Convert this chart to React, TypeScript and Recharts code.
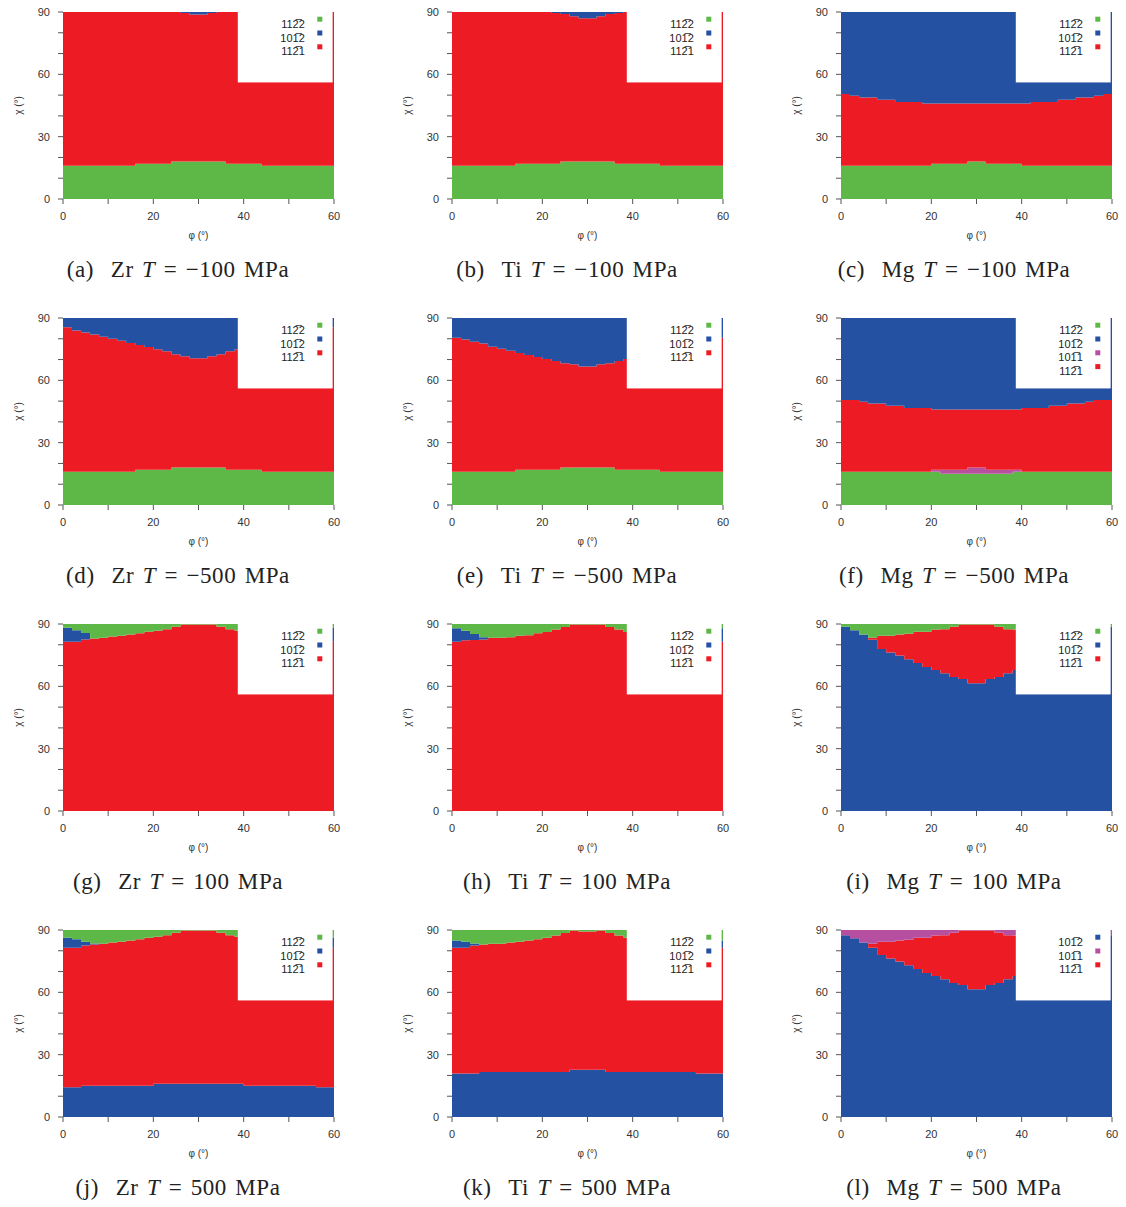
import React from 'react';
import { AreaChart, Area, XAxis, YAxis } from 'recharts';

// phi sampled every 2 degrees (each value holds until the next one)
const phi = [0, 2, 4, 6, 8, 10, 12, 14, 16, 18, 20, 22, 24, 26, 28, 30, 32, 34, 36, 38, 40, 42, 44, 46, 48, 50, 52, 54, 56, 58, 60];

// boundaries (chi, degrees)
const zrGreenTop = [16, 16, 16, 16, 16, 16, 16, 16, 17, 17, 17, 17, 18, 18, 18, 18, 18, 18, 17, 17, 17, 17, 16, 16, 16, 16, 16, 16, 16, 16, 16];
const tiGreenTop = [16, 16, 16, 16, 16, 16, 16, 17, 17, 17, 17, 17, 18, 18, 18, 18, 18, 18, 17, 17, 17, 17, 17, 16, 16, 16, 16, 16, 16, 16, 16];
const mgGreenTop = [16, 16, 16, 16, 16, 16, 16, 16, 16, 16, 17, 17, 17, 17, 18, 18, 17, 17, 17, 17, 16, 16, 16, 16, 16, 16, 16, 16, 16, 16, 16];

const aRedTop = [90, 90, 90, 90, 90, 90, 90, 90, 90, 90, 90, 90, 90, 89.5, 88.8, 88.8, 89.5, 90, 90, 90, 90, 90, 90, 90, 90, 90, 90, 90, 90, 90, 90];
const bRedTop = [90, 90, 90, 90, 90, 90, 90, 90, 90, 90, 90, 89.5, 89, 88, 87, 87, 88, 89, 89.5, 90, 90, 90, 90, 90, 90, 90, 90, 90, 90, 90, 90];
const cRedTop = [50.5, 49.7, 48.8, 48.8, 47.8, 47.8, 46.7, 46.7, 46.7, 46, 46, 46, 46, 46, 46, 46, 46, 46, 46, 46, 46, 46.7, 46.7, 46.7, 47.8, 47.8, 48.8, 48.8, 49.7, 50.5, 50.5];

const dRedTop = [85.5, 84, 83, 82, 81, 80, 79, 78, 77, 76, 75, 74, 72.5, 71.6, 70.6, 70.6, 71.6, 72.5, 74, 75, 76, 77, 78, 79, 80, 81, 82, 83, 84, 85.5, 85.5];
const eRedTop = [80.5, 79.6, 78.6, 77.7, 76.2, 75.2, 74.2, 73.2, 72.2, 71.2, 70.3, 69.3, 68.2, 67.7, 66.7, 66.7, 67.7, 68.2, 69.3, 70.3, 71.2, 72.2, 73.2, 74.2, 75.2, 76.2, 77.7, 78.6, 79.6, 80.5, 80.5];
const fGreenTop = [16, 16, 16, 16, 16, 16, 16, 16, 16, 16, 16, 15.1, 15.1, 15.1, 15.1, 15.1, 15.1, 15.1, 15.1, 16, 16, 16, 16, 16, 16, 16, 16, 16, 16, 16, 16];
const fMagentaTop = [16, 16, 16, 16, 16, 16, 16, 16, 16, 16, 17, 17, 17, 17, 18, 18, 17, 17, 17, 17, 16, 16, 16, 16, 16, 16, 16, 16, 16, 16, 16];
const fRedTop = [50.5, 50.5, 49.7, 48.8, 48.8, 47.8, 47.8, 46.7, 46.7, 46.7, 46, 46, 46, 46, 46, 46, 46, 46, 46, 46, 46.7, 46.7, 46.7, 47.8, 47.8, 48.8, 48.8, 49.7, 50.5, 50.5, 50.5];

const zrRedTopPos = [81.5, 81.5, 82.5, 83, 83.4, 84, 84.4, 85, 85.5, 86.3, 86.8, 87.5, 88.7, 89.7, 89.7, 89.7, 89.7, 88.7, 87.5, 86.8, 86.3, 85.5, 85, 84.4, 84, 83.4, 83, 82.5, 81.5, 81.5, 81.5];
const gBlueTop = [88.2, 87, 85.7, 83, 83.4, 84, 84.4, 85, 85.5, 86.3, 86.8, 87.5, 88.7, 89.7, 89.7, 89.7, 89.7, 88.7, 87.5, 86.8, 86.3, 85.5, 85, 84.4, 84, 83.4, 83, 85.7, 87, 88.2, 88.2];
const hRedTop = [81.5, 82.2, 82.3, 82.5, 83.4, 83.4, 83.6, 84.4, 84.6, 85.5, 86.2, 87.3, 88.5, 89.7, 89.7, 89.7, 89.7, 88.5, 87.3, 86.2, 85.5, 84.6, 84.4, 83.6, 83.4, 83.4, 82.5, 82.3, 82.2, 81.5, 81.5];
const hBlueTop = [87.9, 86.8, 85.2, 83.6, 83.4, 83.4, 83.6, 84.4, 84.6, 85.5, 86.2, 87.3, 88.5, 89.7, 89.7, 89.7, 89.7, 88.5, 87.3, 86.2, 85.5, 84.6, 84.4, 83.6, 83.4, 83.4, 83.6, 85.2, 86.8, 87.9, 87.9];
const iBlueTop = [88.7, 87, 85, 82.4, 78, 76.3, 74.8, 73, 71.2, 69.3, 67.9, 66.3, 64.5, 63.5, 61.5, 61.5, 63.5, 64.5, 66.3, 67.9, 69.3, 71.2, 73, 74.8, 76.3, 78, 82.4, 85, 87, 88.7, 88.7];
const iRedTop = [88.7, 87, 85, 83.4, 84.4, 84.4, 85, 85.3, 86.3, 86.3, 87.3, 87.5, 88.7, 89.7, 89.7, 89.7, 89.7, 88.7, 87.5, 87.3, 86.3, 86.3, 85.3, 85, 84.4, 84.4, 83.4, 85, 87, 88.7, 88.7];

const jBlueLowTop = [14.3, 14.3, 15.1, 15.1, 15.1, 15.1, 15.1, 15.1, 15.1, 15.1, 16, 16, 16, 16, 16, 16, 16, 16, 16, 16, 15.1, 15.1, 15.1, 15.1, 15.1, 15.1, 15.1, 15.1, 14.3, 14.3, 14.3];
const jBlueHighTop = [86.3, 85.5, 84.4, 83.5, 83.4, 84, 84.4, 85, 85.5, 86.3, 86.8, 87.5, 88.7, 89.7, 89.7, 89.7, 89.7, 88.7, 87.5, 86.8, 86.3, 85.5, 85, 84.4, 84, 83.4, 83.5, 84.4, 85.5, 86.3, 86.3];
const kBlueLowTop = [20.9, 20.9, 20.9, 21.7, 21.7, 21.7, 21.7, 21.7, 21.7, 21.7, 21.7, 21.7, 21.7, 22.8, 22.8, 22.8, 22.8, 21.7, 21.7, 21.7, 21.7, 21.7, 21.7, 21.7, 21.7, 21.7, 21.7, 20.9, 20.9, 20.9, 20.9];
const kRedTop = [81.5, 81.5, 82.5, 83, 83.4, 83.4, 84, 84.4, 85, 85.5, 86.3, 87.3, 88.5, 89.7, 89.3, 89.3, 89.7, 88.5, 87.3, 86.3, 85.5, 85, 84.4, 84, 83.4, 83.4, 83, 82.5, 81.5, 81.5, 81.5];
const kBlueHighTop = [85, 84.3, 83.5, 83, 83.4, 83.4, 84, 84.4, 85, 85.5, 86.3, 87.3, 88.5, 89.7, 89.3, 89.3, 89.7, 88.5, 87.3, 86.3, 85.5, 85, 84.4, 84, 83.4, 83.4, 83, 83.5, 84.3, 85, 85];
const lBlueTop = [87.5, 86, 84, 81.5, 78, 76.3, 74.8, 73, 71.2, 69.3, 67.9, 66.3, 64.5, 63.5, 61.5, 61.5, 63.5, 64.5, 66.3, 67.9, 69.3, 71.2, 73, 74.8, 76.3, 78, 81.5, 84, 86, 87.5, 87.5];
const lRedTop = [87.5, 86, 84, 83.4, 84.4, 84.4, 85, 85.3, 86.3, 86.3, 87.3, 87.5, 88.7, 89.7, 89.7, 89.7, 89.7, 88.7, 87.5, 87.3, 86.3, 86.3, 85.3, 85, 84.4, 84.4, 83.4, 84, 86, 87.5, 87.5];

const xTicks = [0, 10, 20, 30, 40, 50, 60];
const yTicks = [0, 10, 20, 30, 40, 50, 60, 70, 80, 90];

const GREEN = '#5DB847';
const BLUE = '#2551A2';
const RED = '#ED1C24';
const MAGENTA = '#B64FA0';

const L1122 = '112\u03052';
const L1012 = '101\u03052';
const L1011 = '101\u03051';
const L1121 = '112\u03051';

type Layer = { color: string; top?: number[] };
type Entry = { label: string; color: string };
type Panel = { tag: string; metal: string; stress: string; layers: Layer[]; legend: Entry[] };

const legend3: Entry[] = [
  { label: L1122, color: GREEN },
  { label: L1012, color: BLUE },
  { label: L1121, color: RED },
];

const panels: Panel[] = [
  { tag: '(a)', metal: 'Zr', stress: '\u2212100', legend: legend3,
    layers: [{ color: GREEN, top: zrGreenTop }, { color: RED, top: aRedTop }, { color: BLUE }] },
  { tag: '(b)', metal: 'Ti', stress: '\u2212100', legend: legend3,
    layers: [{ color: GREEN, top: tiGreenTop }, { color: RED, top: bRedTop }, { color: BLUE }] },
  { tag: '(c)', metal: 'Mg', stress: '\u2212100', legend: legend3,
    layers: [{ color: GREEN, top: mgGreenTop }, { color: RED, top: cRedTop }, { color: BLUE }] },
  { tag: '(d)', metal: 'Zr', stress: '\u2212500', legend: legend3,
    layers: [{ color: GREEN, top: zrGreenTop }, { color: RED, top: dRedTop }, { color: BLUE }] },
  { tag: '(e)', metal: 'Ti', stress: '\u2212500', legend: legend3,
    layers: [{ color: GREEN, top: tiGreenTop }, { color: RED, top: eRedTop }, { color: BLUE }] },
  { tag: '(f)', metal: 'Mg', stress: '\u2212500',
    legend: [
      { label: L1122, color: GREEN },
      { label: L1012, color: BLUE },
      { label: L1011, color: MAGENTA },
      { label: L1121, color: RED },
    ],
    layers: [{ color: GREEN, top: fGreenTop }, { color: MAGENTA, top: fMagentaTop }, { color: RED, top: fRedTop }, { color: BLUE }] },
  { tag: '(g)', metal: 'Zr', stress: '100', legend: legend3,
    layers: [{ color: RED, top: zrRedTopPos }, { color: BLUE, top: gBlueTop }, { color: GREEN }] },
  { tag: '(h)', metal: 'Ti', stress: '100', legend: legend3,
    layers: [{ color: RED, top: hRedTop }, { color: BLUE, top: hBlueTop }, { color: GREEN }] },
  { tag: '(i)', metal: 'Mg', stress: '100', legend: legend3,
    layers: [{ color: BLUE, top: iBlueTop }, { color: RED, top: iRedTop }, { color: GREEN }] },
  { tag: '(j)', metal: 'Zr', stress: '500', legend: legend3,
    layers: [{ color: BLUE, top: jBlueLowTop }, { color: RED, top: zrRedTopPos }, { color: BLUE, top: jBlueHighTop }, { color: GREEN }] },
  { tag: '(k)', metal: 'Ti', stress: '500', legend: legend3,
    layers: [{ color: BLUE, top: kBlueLowTop }, { color: RED, top: kRedTop }, { color: BLUE, top: kBlueHighTop }, { color: GREEN }] },
  { tag: '(l)', metal: 'Mg', stress: '500',
    legend: [
      { label: L1012, color: BLUE },
      { label: L1011, color: MAGENTA },
      { label: L1121, color: RED },
    ],
    layers: [{ color: BLUE, top: lBlueTop }, { color: RED, top: lRedTop }, { color: MAGENTA }] },
];

// chart geometry
const W = 341;
const H = 242;
const ML = 50;
const MT = 10;
const PW = 271;
const PH = 187;
const SANS = '"Liberation Sans", Arial, "DejaVu Sans", sans-serif';

// legend box: phi 38.7..59.7, chi 56.1..90
const BOX_X = ML + (PW * 38.7) / 60;
const BOX_W = (PW * 21) / 60;
const BOX_H = (PH * 33.9) / 90;

function buildRows(layers: Layer[]) {
  return phi.map((p, i) => {
    const row: Record<string, number> = { phi: p };
    let prev = 0;
    layers.forEach((l, j) => {
      const top = l.top ? l.top[i] : 90;
      row['s' + j] = Math.max(0, top - prev);
      prev = Math.max(prev, top);
    });
    return row;
  });
}

// legend box and axis titles, laid over the chart svg
function Overlay({ legend }: { legend: Entry[] }) {
  return (
    <svg
      width={W}
      height={H}
      style={{ position: 'absolute', left: 0, top: 0, pointerEvents: 'none' }}
      fontFamily={SANS}
    >
      <rect x={BOX_X} y={MT} width={BOX_W} height={BOX_H} fill="#ffffff" />
      {legend.map((e, i) => (
        <g key={i}>
          <text x={ML + 241.8} y={MT + 15.7 + i * 13.8} textAnchor="end" fontSize={11} fill="#222">
            {e.label}
          </text>
          <rect x={ML + 254.3} y={MT + 4.7 + i * 13.8} width={5} height={5} fill={e.color} />
        </g>
      ))}
      <text x={ML + PW / 2} y={MT + PH + 39.5} textAnchor="middle" fontSize={10} fill="#333">
        φ (°)
      </text>
      <text
        transform={`translate(${ML - 44.5}, ${MT + PH / 2}) rotate(-90)`}
        textAnchor="middle"
        dominantBaseline="central"
        fontSize={10}
        fill="#333"
      >
        χ (°)
      </text>
    </svg>
  );
}

function PanelChart({ panel, left, top }: { panel: Panel; left: number; top: number }) {
  const data = buildRows(panel.layers);
  const tickStyle = { fontSize: 11, fill: '#333', fontFamily: SANS };
  return (
    <div style={{ position: 'absolute', left, top, width: W, height: H }}>
      <AreaChart width={W} height={H} data={data} margin={{ top: MT, right: W - ML - PW, left: 20, bottom: 5 }}>
        <XAxis
          dataKey="phi"
          type="number"
          domain={[0, 60]}
          ticks={xTicks}
          interval={0}
          tickFormatter={(v: number) => (v % 20 === 0 ? String(v) : '')}
          tickSize={5}
          tickMargin={8}
          height={40}
          axisLine={false}
          tickLine={{ stroke: '#555' }}
          tick={tickStyle}
        />
        <XAxis
          xAxisId="top"
          orientation="top"
          type="number"
          domain={[0, 60]}
          ticks={xTicks}
          interval={0}
          tickFormatter={() => ''}
          tickSize={5}
          height={0}
          axisLine={false}
          tickLine={{ stroke: '#555' }}
        />
        <YAxis
          type="number"
          domain={[0, 90]}
          ticks={yTicks}
          interval={0}
          tickFormatter={(v: number) => (v % 30 === 0 ? String(v) : '')}
          width={30}
          tickSize={5}
          tickMargin={8}
          axisLine={false}
          tickLine={{ stroke: '#555' }}
          tick={tickStyle}
          allowDataOverflow
        />
        <YAxis
          yAxisId="right"
          orientation="right"
          type="number"
          domain={[0, 90]}
          ticks={yTicks}
          interval={0}
          tickFormatter={() => ''}
          width={0}
          tickSize={5}
          axisLine={false}
          tickLine={{ stroke: '#555' }}
        />
        {panel.layers.map((l, j) => (
          <Area
            key={j}
            dataKey={'s' + j}
            stackId="map"
            type="stepAfter"
            fill={l.color}
            fillOpacity={1}
            stroke="none"
            dot={false}
            activeDot={false}
            isAnimationActive={false}
          />
        ))}
      </AreaChart>
      <Overlay legend={panel.legend} />
    </div>
  );
}

const colCenters = [178, 567, 954];

export default function App() {
  return (
    <div style={{ position: 'absolute', left: 0, top: 0, width: 1126, height: 1207, background: '#fff' }}>
      {panels.map((p, idx) => {
        const col = idx % 3;
        const row = Math.floor(idx / 3);
        const x0 = 62.5 + 389 * col;
        const y90 = 12.3 + 306 * row;
        return (
          <React.Fragment key={p.tag}>
            <PanelChart panel={p} left={x0 - ML} top={y90 - MT} />
            <div
              style={{
                position: 'absolute',
                left: colCenters[col],
                top: 257 + 306 * row,
                transform: 'translateX(-50%)',
                whiteSpace: 'nowrap',
                fontFamily: '"Liberation Serif", "DejaVu Serif", serif',
                fontSize: 23,
                letterSpacing: '0.6px',
                wordSpacing: '2px',
                lineHeight: '26px',
                color: '#222',
              }}
            >
              {p.tag}&nbsp;&nbsp;{p.metal} <i>T</i>&nbsp;= {p.stress} MPa
            </div>
          </React.Fragment>
        );
      })}
    </div>
  );
}
